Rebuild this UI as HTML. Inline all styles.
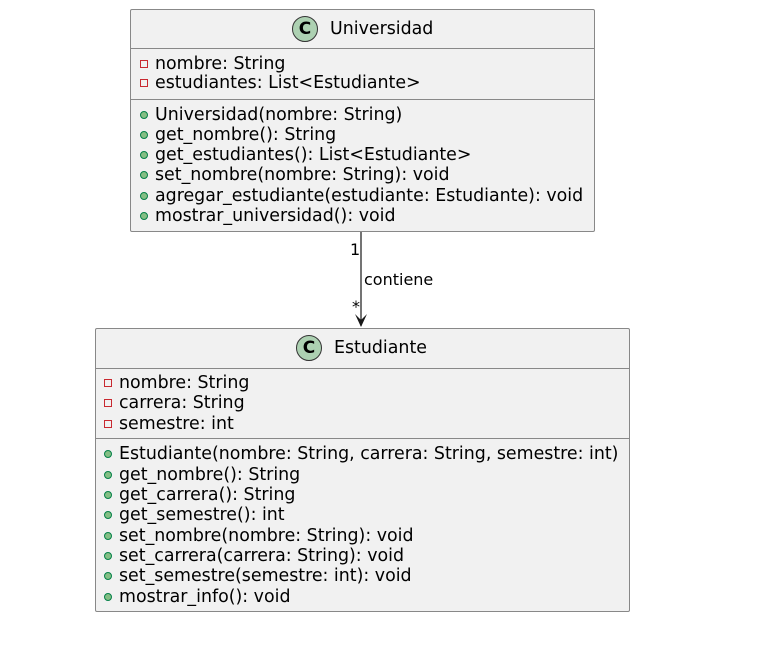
<!DOCTYPE html>
<html><head><meta charset="utf-8"><style>
body{margin:0;width:774px;height:670px;background:#fff;position:relative;overflow:hidden;font-family:"DejaVu Sans","Liberation Sans",sans-serif;font-size:17.4px;color:#000}
.box{position:absolute;background:#f1f1f1;border:1px solid #888;border-radius:2px;box-sizing:border-box}
.hl{position:absolute;height:1px;background:#888}
.t{position:absolute;line-height:20px;white-space:nowrap}
.circ{position:absolute;width:26px;height:26px;border-radius:50%;background:#add1b2;border:1px solid #333;box-sizing:border-box;font-weight:bold;font-size:17px;line-height:24px;text-align:center}
.pr{position:absolute;width:8px;height:8px;border:1px solid #c82930;box-sizing:border-box}
.pu{position:absolute;width:8px;height:8px;border-radius:50%;background:#84be84;border:1px solid #038048;box-sizing:border-box}
.s{font-size:16px}
</style></head><body>
<div class="box" style="left:130px;top:9px;width:465px;height:223px"></div>
<div class="hl" style="left:131px;top:48px;width:463px"></div>
<div class="hl" style="left:131px;top:99px;width:463px"></div>
<div class="circ" style="left:292px;top:16px">C</div>
<div class="t" style="left:330px;top:19px">Universidad</div>
<div class="pr" style="left:140px;top:60px"></div><div class="t" style="left:155px;top:54px">nombre: String</div>
<div class="pr" style="left:140px;top:79px"></div><div class="t" style="left:155px;top:73px">estudiantes: List&lt;Estudiante&gt;</div>
<div class="pu" style="left:140px;top:111px"></div><div class="t" style="left:155px;top:105px">Universidad(nombre: String)</div>
<div class="pu" style="left:140px;top:131px"></div><div class="t" style="left:155px;top:125px">get_nombre(): String</div>
<div class="pu" style="left:140px;top:151px"></div><div class="t" style="left:155px;top:145px">get_estudiantes(): List&lt;Estudiante&gt;</div>
<div class="pu" style="left:140px;top:171px"></div><div class="t" style="left:155px;top:165px">set_nombre(nombre: String): void</div>
<div class="pu" style="left:140px;top:192px"></div><div class="t" style="left:155px;top:186px">agregar_estudiante(estudiante: Estudiante): void</div>
<div class="pu" style="left:140px;top:212px"></div><div class="t" style="left:155px;top:206px">mostrar_universidad(): void</div>

<svg style="position:absolute;left:0;top:0" width="774" height="670">
<line x1="361" y1="232" x2="361" y2="326" stroke="#181818" stroke-width="1.2"/>
<path d="M355,314 L361,327 L367,314 L361,320 Z" fill="#181818"/>
</svg>
<div class="t s" style="left:350px;top:240px">1</div>
<div class="t s" style="left:364px;top:270px">contiene</div>
<div class="t s" style="left:352px;top:297px">*</div>

<div class="box" style="left:95px;top:328px;width:535px;height:284px"></div>
<div class="hl" style="left:96px;top:368px;width:533px"></div>
<div class="hl" style="left:96px;top:438px;width:533px"></div>
<div class="circ" style="left:296px;top:335px">C</div>
<div class="t" style="left:334px;top:338px">Estudiante</div>
<div class="pr" style="left:104px;top:379px"></div><div class="t" style="left:119px;top:373px">nombre: String</div>
<div class="pr" style="left:104px;top:399px"></div><div class="t" style="left:119px;top:393px">carrera: String</div>
<div class="pr" style="left:104px;top:420px"></div><div class="t" style="left:119px;top:414px">semestre: int</div>
<div class="pu" style="left:104px;top:450px"></div><div class="t" style="left:119px;top:444px">Estudiante(nombre: String, carrera: String, semestre: int)</div>
<div class="pu" style="left:104px;top:471px"></div><div class="t" style="left:119px;top:465px">get_nombre(): String</div>
<div class="pu" style="left:104px;top:491px"></div><div class="t" style="left:119px;top:485px">get_carrera(): String</div>
<div class="pu" style="left:104px;top:511px"></div><div class="t" style="left:119px;top:505px">get_semestre(): int</div>
<div class="pu" style="left:104px;top:532px"></div><div class="t" style="left:119px;top:526px">set_nombre(nombre: String): void</div>
<div class="pu" style="left:104px;top:552px"></div><div class="t" style="left:119px;top:546px">set_carrera(carrera: String): void</div>
<div class="pu" style="left:104px;top:572px"></div><div class="t" style="left:119px;top:566px">set_semestre(semestre: int): void</div>
<div class="pu" style="left:104px;top:593px"></div><div class="t" style="left:119px;top:587px">mostrar_info(): void</div>
</body></html>
